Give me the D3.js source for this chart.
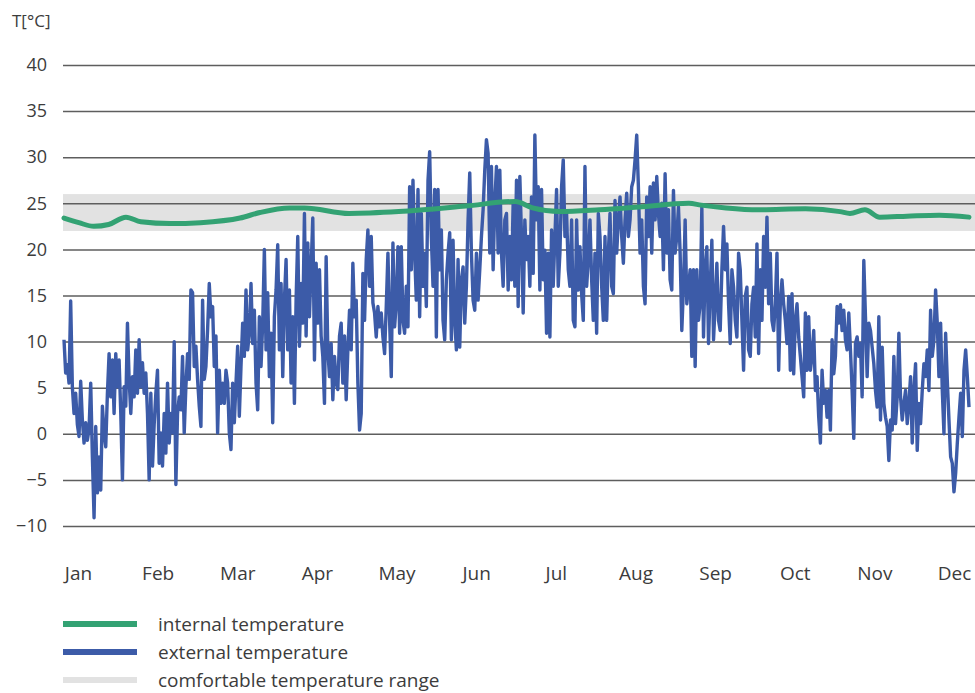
<!DOCTYPE html>
<html><head><meta charset="utf-8">
<script src="https://cdn.jsdelivr.net/npm/d3@7"></script>
<style>body{margin:0;background:#fff}svg{display:block}</style>
</head><body><svg id="c" width="975" height="693"></svg>
<script>
// ---------- data ----------
const months = ["Jan","Feb","Mar","Apr","May","Jun","Jul","Aug","Sep","Oct","Nov","Dec"];
const yTicks = [-10,-5,0,5,10,15,20,25,30,35,40];
const comfortRange = [22, 26];
const yUnit = "T[°C]";

// internal temperature: day of year / °C
const internalDay  = [0, 6, 12, 18, 25, 31, 43, 55, 71, 79, 91, 97, 115, 135, 162, 182, 189, 200, 216, 232, 252, 257, 267, 280, 299, 313, 317, 323, 329, 340, 353, 365];
const internalTemp = [23.4, 22.9, 22.5, 22.7, 23.5, 23.0, 22.8, 22.9, 23.4, 24.0, 24.5, 24.5, 23.9, 24.1, 24.7, 25.2, 24.5, 24.1, 24.3, 24.6, 25.0, 24.8, 24.5, 24.3, 24.4, 24.1, 23.9, 24.3, 23.5, 23.6, 23.7, 23.5];

// external temperature: readings evenly spread over the year, °C
const externalTemp = [
// Jan-Mar
10.2,6.6,7.5,5.5,14.4,5.1,2.2,4.4,1.0,-0.3,5.7,1.5,-1,1.2,-0.7,0.5,5.5,-2.5,-9.1,0.8,-6.4,-2.5,-6.1,3,0.1,-1.4,4.4,8.7,4,8,
2.2,8.7,5.1,8,2.2,-5,5.1,3,12,5.9,2.2,6.2,4,9.1,4.4,10.2,5.1,7.7,4.4,6.6,2.2,-5,4.4,-3.5,1.0,4.4,6.9,-3.2,0.1,-3.5,
2.2,-2.1,5.5,-1,2.2,0.1,10,-5.5,2.2,4,2.6,8.4,0.1,5.1,8.7,5.9,15.6,15.3,7.3,9.5,5.9,3.0,0.8,14.5,5.9,7.3,11.3,16.3,
// Mar-May
12.7,13.8,7.3,10.6,0.1,6.9,3.3,5.5,3.3,6.9,5.5,0.1,-1.7,5.5,1.2,5.5,9.5,1.9,7.3,12,8.4,15.6,9.1,10.9,16.3,9.8,13.4,5.5,2.6,12.7,
7.3,12,20,9.1,15.3,6.2,10.9,1.2,12.7,15.6,20.5,9.1,16.3,6.2,14.5,18.9,9.1,15.6,5.5,12.7,3.3,14.5,21.4,9.5,16.3,12,23.9,10.6,20.7,12.7,
18.1,23.4,8,18.5,12,17.8,10.6,8.4,3.3,19.2,9.1,6.2,9.8,3.7,8.4,5.5,4.8,10.6,12,5.5,10.6,3.7,9.1,13.4,9.1,18.5,12.7,14.5,5.5,0.4,
// May-Jul
2.2,17.4,12.3,18.9,22.1,16,21.4,14.2,13.1,10.5,13.8,11.6,13.1,10.5,8.7,13.8,19.6,12.3,6.2,20.7,11.6,14.2,20.3,10.9,20.3,12.3,10.9,16,11.6,26.8,
17.8,27.5,19.6,14.5,26.5,12.7,23.9,16,19.6,13.8,27.5,30.6,21.4,16,26.5,10.5,26.5,17.8,22.1,12.3,10.2,16.7,19.6,21.8,10.2,21,12.3,9.1,18.9,9.4,
16.7,18.1,12,16,23.2,28.3,19.6,14.5,13.4,19.6,14.5,17.8,21.4,24.3,28.6,31.9,30.4,19.6,29,17.8,25,29,19.6,28.6,19.6,16,23.2,23.9,15.6,21.4,
// Jul-Sep
16.7,25,16,27.5,13.8,27.9,21.4,13.1,23.2,18.9,21.4,16,25.7,17.4,32.4,23.2,26.8,15.6,26.5,16.7,19.9,10.9,19.6,10.5,22.1,16,21.4,26.5,16,19.6,
26.8,29.7,21.4,23.9,17.8,16,23.2,12.3,11.6,23.2,15.6,20.3,15.2,12.3,29,16,18.9,23.2,16.7,12.3,19.6,10.9,23.9,21.4,16,12.3,21.4,12.3,19.6,23.9,
16,15.2,25.3,19.6,23.2,25.7,21.4,18.5,23.2,26.1,21.4,23.2,26.8,27.5,29.7,32.4,26.8,19.6,23.2,16,14.1,25.7,21.4,26.8,19.6,27.2,23.2,27.9,23.9,21.4,
// Sep-Nov
25,17.8,28.2,19.6,24.3,16.7,15.6,26.4,19.6,21.4,24.6,19.6,11.2,15.9,23.2,14.1,15.9,17.8,8.4,17.8,7.3,17.8,12.3,14.1,24.6,10.5,17.8,20.3,9.8,15.9,
21,10.2,14.1,18.5,12.3,11.2,17.8,22.5,17.8,20.6,14.1,9.8,17.8,15.9,12.3,10.5,19.6,17.8,12.3,6.9,14.9,15.9,9.1,8.4,14.1,15.9,10.5,20.6,8.7,17.8,
12.3,21.4,15.9,23.5,14.1,19.6,12.3,11.2,14.1,19.6,6.9,14.1,16.7,14.1,12.3,9.8,14.9,6.9,15.2,6.5,12.3,14.1,10.5,8.4,6.2,4,13.1,6.9,12.7,6.9,
// Nov-Dec
8.4,11.2,4.7,6.2,1.8,-1,6.9,3.3,4.7,1.8,4.7,0.4,10.2,6.5,8.4,13.8,12,14,11.2,13.4,10.2,9.1,13.1,9.1,4.7,-0.5,9.8,10.5,8.4,9.8,
4,18.8,12.7,6.2,12,11.2,9.4,7.6,4.7,2.9,12.7,1.5,9.4,3.3,1.8,0.8,-2.9,1.5,0.4,8.4,1.1,4,10.9,4,1.5,3.3,4.7,1.1,3.3,6.2,
-1,4.7,7.6,-1.8,3.3,1.1,4.7,7.6,6.2,9.1,4.7,13.4,8.4,10.2,15.6,12,6.2,12,4.7,0,10.9,5.8,1.5,-2.5,-3.2,-6.3,-4.3,-1,1.8,4.4,
-0.3,6.9,9.1,6.2,2.9
];

const legendLabels = ["internal temperature","external temperature","comfortable temperature range"];
const COLORS = {internal:"#33a273", external:"#3c5ba8", band:"#e2e2e2", grid:"#5e5e5e", text:"#3c3c3c"};
const FONT = "'Open Sans','Noto Sans',sans-serif";

// ---------- scales ----------
const svg = d3.select("#c");
const W = 975;
const x = d3.scaleLinear().domain([0, 365]).range([64, 969]);
const y = d3.scaleLinear().domain([-10, 40]).range([526, 65]);
const xm = d3.scalePoint().domain(months).range([78, 954]);

const gridX0 = 63, gridX1 = W;

// comfort band
svg.append("rect")
  .attr("x", gridX0).attr("width", gridX1 - gridX0)
  .attr("y", y(comfortRange[1])).attr("height", y(comfortRange[0]) - y(comfortRange[1]))
  .attr("fill", COLORS.band);

// gridlines + y labels via axis
const yAxis = d3.axisLeft(y).tickValues(yTicks).tickSize(-(gridX1 - gridX0)).tickPadding(16).tickFormat(d3.format("d"));
const gy = svg.append("g").attr("transform", `translate(${gridX0},0)`).call(yAxis);
gy.select(".domain").remove();
gy.selectAll(".tick line").attr("stroke", COLORS.grid).attr("stroke-width", 1.5);
gy.selectAll(".tick text").attr("font-family", FONT).attr("font-size", 18).attr("fill", COLORS.text);

svg.append("text").attr("x", 12).attr("y", 27).text(yUnit)
  .attr("font-family", FONT).attr("font-size", 17).attr("fill", COLORS.text);

// month axis
const xAxis = d3.axisBottom(xm).tickSize(0).tickPadding(0);
const gx = svg.append("g").attr("transform", "translate(0,566)").call(xAxis);
gx.select(".domain").remove();
gx.selectAll(".tick text").attr("font-family", FONT).attr("font-size", 19).attr("fill", COLORS.text).attr("dy", "0.71em");

// external line
const n = externalTemp.length;
const extData = externalTemp.map((v, i) => ({day: i * 365 / (n - 1), t: v}));
svg.append("path").datum(extData)
  .attr("fill", "none").attr("stroke", COLORS.external).attr("stroke-width", 3.4)
  .attr("stroke-linejoin", "round")
  .attr("d", d3.line().x(d => x(d.day)).y(d => y(d.t)));

// internal line
const intData = internalDay.map((d, i) => ({day: d, t: internalTemp[i]}));
svg.append("path").datum(intData)
  .attr("fill", "none").attr("stroke", COLORS.internal).attr("stroke-width", 5)
  .attr("stroke-linecap", "round")
  .attr("d", d3.line().curve(d3.curveMonotoneX).x(d => x(d.day)).y(d => y(d.t)));

// legend
const legColors = [COLORS.internal, COLORS.external, COLORS.band];
const legY = d3.scalePoint().domain(legendLabels).range([624, 680]);
const lg = svg.append("g");
legendLabels.forEach((lab, i) => {
  const yy = legY(lab);
  lg.append("line").attr("x1", 63).attr("x2", 137).attr("y1", yy).attr("y2", yy)
    .attr("stroke", legColors[i]).attr("stroke-width", 6);
  lg.append("text").attr("x", 158).attr("y", yy).attr("dy", "0.35em").text(lab)
    .attr("font-family", FONT).attr("font-size", 19).attr("fill", COLORS.text);
});
</script></body></html>
